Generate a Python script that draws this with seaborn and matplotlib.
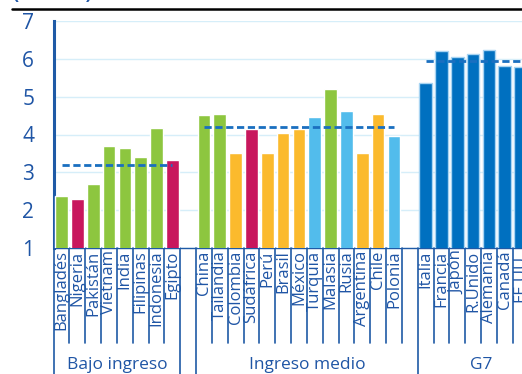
import matplotlib
matplotlib.use("Agg")
import matplotlib.pyplot as plt
import matplotlib.transforms as mtransforms
from matplotlib.lines import Line2D
import numpy as np
import pandas as pd
import seaborn as sns

# ---------------- data ----------------
group_names = ["Bajo ingreso", "Ingreso medio", "G7"]

low_countries = ["Bangladés", "Nigeria", "Pakistán", "Vietnam", "India",
                 "Filipinas", "Indonesia", "Egipto"]
low_values = [2.38, 2.30, 2.70, 3.70, 3.65, 3.41, 4.17, 3.33]
low_regions = ["Asia", "África", "Asia", "Asia", "Asia", "Asia", "Asia", "África"]

mid_countries = ["China", "Tailandia", "Colombia", "Sudáfrica", "Perú", "Brasil",
                 "México", "Turquía", "Malasia", "Rusia", "Argentina", "Chile", "Polonia"]
mid_values = [4.51, 4.54, 3.51, 4.15, 3.51, 4.04, 4.15, 4.46, 5.20, 4.62, 3.51, 4.54, 3.96]
mid_regions = ["Asia", "Asia", "América Latina", "África", "América Latina",
               "América Latina", "América Latina", "Europa", "Asia", "Europa",
               "América Latina", "América Latina", "Europa"]

g7_countries = ["Italia", "Francia", "Japón", "R.Unido", "Alemania", "Canadá", "EE.UU."]
g7_values = [5.35, 6.20, 6.03, 6.12, 6.24, 5.81, 5.77]
g7_regions = ["G7"] * 7

group_means = [3.20, 4.20, 5.94]

title_text = "(2013-14)"

region_colors = {
    "Asia": "#8DC63F",
    "África": "#C8175D",
    "América Latina": "#FBBA2D",
    "Europa": "#52BCEC",
    "G7": "#0070C0",
}

# ---------------- build table (gap slot between groups) ----------------
rows = []
group_spans = []
slot = 0
groups = [(low_countries, low_values, low_regions),
          (mid_countries, mid_values, mid_regions),
          (g7_countries, g7_values, g7_regions)]
for gi, (cs, vs, rs) in enumerate(groups):
    start = slot
    for c, v, r in zip(cs, vs, rs):
        rows.append({"slot": f"s{slot}", "label": c, "value": v, "region": r})
        slot += 1
    group_spans.append((start, slot - 1))
    if gi < len(groups) - 1:
        rows.append({"slot": f"s{slot}", "label": "", "value": np.nan, "region": "G7"})
        slot += 1
df = pd.DataFrame(rows)
n_slots = len(df)

# ---------------- figure ----------------
W, H = 522, 374
fig = plt.figure(figsize=(W / 100, H / 100), dpi=100)
sns.set_style("white")
plt.rcParams["font.family"] = ["Open Sans", "DejaVu Sans"]

axis_blue = "#1F5AA6"
text_blue = "#1F55A5"

slot_px = 15.83
left_px = 53.6
top_px = 20.7
bottom_px = 248.3
ax = fig.add_axes([left_px / W, 1 - bottom_px / H,
                   n_slots * slot_px / W, (bottom_px - top_px) / H])

sns.barplot(data=df, x="slot", y="value", hue="region", palette=region_colors,
            order=list(df["slot"]), hue_order=list(region_colors.keys()),
            dodge=False, width=0.8, saturation=1, legend=False, ax=ax, zorder=3)

for p in ax.patches:
    fc = p.get_facecolor()
    if np.allclose(fc[:3], matplotlib.colors.to_rgb(region_colors["G7"]), atol=0.01):
        p.set_edgecolor("#A8D4F2")
        p.set_linewidth(1.0)

ax.set_xlim(-0.5, n_slots - 0.5)
ax.set_ylim(1, 7)
ax.set_yticks(range(1, 8))
ax.set_xticks(range(n_slots))
ax.set_xticklabels(df["label"], rotation=90, fontsize=12, color=text_blue)
ax.set_xlabel("")
ax.set_ylabel("")

ax.grid(axis="y", color="#D6EEF9", lw=1.0, zorder=0)
ax.grid(axis="x", visible=False)
for s in ["top", "right"]:
    ax.spines[s].set_visible(False)
ax.spines["left"].set_color(axis_blue)
ax.spines["left"].set_linewidth(2.2)
ax.spines["bottom"].set_color(axis_blue)
ax.spines["bottom"].set_linewidth(1.0)

ax.tick_params(axis="y", length=6, width=2, color=axis_blue, labelsize=15,
               labelcolor=text_blue, pad=8.0)
ax.tick_params(axis="x", length=0, pad=1.5)

# group average dashed lines
for (s0, s1), m in zip(group_spans, group_means):
    ax.hlines(m, s0, s1, colors="#1A6FC0", lw=2.0, linestyles=(0, (2.6, 1.3)), zorder=4)

# separators under the axis
trans = mtransforms.blended_transform_factory(ax.transData, ax.transAxes)
short_y = (bottom_px - 343) / (bottom_px - top_px)
long_y = (bottom_px - H) / (bottom_px - top_px)
long_bounds = [-0.5, group_spans[0][1] + 0.5, group_spans[1][0] - 0.5,
               group_spans[2][0] - 0.5]
for b in np.arange(-0.5, n_slots, 1.0):
    ylow = long_y if any(abs(b - lb) < 1e-6 for lb in long_bounds) else short_y
    ax.add_line(Line2D([b, b], [0, ylow], transform=trans, color=axis_blue,
                       lw=1.2, clip_on=False))

# group labels
label_y = (bottom_px - 365) / (bottom_px - top_px)
centers = [(-0.5 + group_spans[0][1] + 0.5) / 2,
           (group_spans[1][0] - 0.5 + group_spans[2][0] - 0.5) / 2,
           (group_spans[2][0] - 0.5 + group_spans[2][1] + 1.5) / 2]
for name, cx in zip(group_names, centers):
    ax.text(cx, label_y, name, transform=trans, ha="center", va="center",
            fontsize=12.5, color=text_blue, clip_on=False)

# top rule and clipped title
fig.add_artist(Line2D([12 / W, 1], [1 - 9 / H, 1 - 9 / H], color="black", lw=1.8))
fig.text(12 / W, 1 - 3.5 / H, title_text, ha="left", va="bottom",
         fontsize=13, fontweight="bold", color=text_blue)

fig.savefig("out.png", dpi=100)
